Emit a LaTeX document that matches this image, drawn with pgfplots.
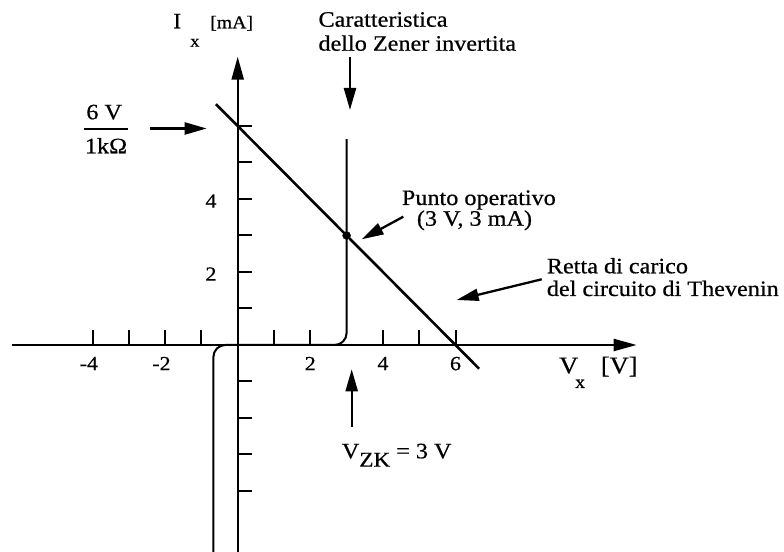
\documentclass[border=0pt]{standalone}
\usepackage{pgfplots}
\pgfplotsset{compat=1.18}
\usetikzlibrary{arrows.meta}
\usepackage{fontspec}
\setmainfont{Liberation Serif}[FakeStretch=1.1, FakeBold=0.6]

\newcommand\txt{\fontsize{22bp}{24bp}\selectfont}

\begin{document}
\begin{tikzpicture}
\useasboundingbox (0,0) rectangle (784bp,552bp);
\begin{axis}[
  anchor=origin, at={(237.7bp,207bp)},
  x=36.3bp, y=36.5bp,
  xmin=-6.23, xmax=10.99, ymin=-5.67, ymax=7.9,
  axis lines*=middle,
  clip=false,
  axis line style={line width=2.3bp, black},
  x axis line style={-{Triangle[length=23bp,width=12bp]}},
  y axis line style={-{Triangle[length=23bp,width=12bp]}},
  tick align=inside,
  major tick length=14.5bp, minor tick length=14.5bp,
  tick style={line width=2bp, black},
  xtick={-4,-2,2,4,6}, xticklabels={\llap{-}4,\llap{-}2,2,4,6},
  minor xtick={-3,-1,1,5},
  ytick={2,4}, yticklabels={2,4},
  minor ytick={-4,-3,-2,-1,1,3,5,6},
  xticklabel style={inner sep=0pt, anchor=north, yshift=-11.7bp, font=\fontsize{20bp}{20bp}\selectfont},
  yticklabel style={inner sep=0pt, anchor=east, xshift=-21bp, yshift=-2bp, font=\fontsize{20bp}{20bp}\selectfont},
]
% load line of the Thevenin circuit: I = (6 V - V)/1 kOhm
\addplot[line width=2.6bp, black] coordinates {(-0.6,6.6) (6.65,-0.65)};
% inverted Zener characteristic (forward knee at -0.67 V, breakdown at 3 V)
\addplot[line width=2bp, black, rounded corners=12bp] coordinates {(-0.67,-5.67) (-0.67,0) (3,0) (3,5.64)};
% operating point
\addplot[only marks, mark=*, mark size=4bp, black] coordinates {(3,3)};
\end{axis}

\begin{scope}[x=1bp, y=-1bp, shift={(0,552bp)},
  every node/.style={inner sep=0pt, anchor=base west},
  arr/.style={line width=2.3bp, -{Triangle[length=22bp,width=12bp]}}]
  % axis titles
  \node at (173,28.3) {\fontsize{22bp}{22bp}\selectfont I};
  \node at (190,46.7) {\fontsize{17bp}{17bp}\selectfont x};
  \node at (210,28.3) {\fontsize{18bp}{18bp}\selectfont [mA]};
  \node at (559,373.3) {\fontsize{24bp}{24bp}\selectfont V};
  \node at (575,388) {\fontsize{18bp}{18bp}\selectfont x};
  \node at (600.7,373.3) {\fontsize{24bp}{24bp}\selectfont [V]};
  % short-circuit current 6 V / 1 kOhm
  \node[anchor=base] at (104.2,119.3) {\txt 6 V};
  \node[anchor=base] at (106,153.3) {\txt 1k\char"03A9};
  \draw[line width=1.7bp] (84,129.3) -- (128.3,129.3);
  \draw[arr] (150,128.5) -- (206.7,128.5);
  % Zener characteristic label
  \node at (318.3,26.7) {\txt Caratteristica};
  \node at (318.3,50.7) {\txt dello Zener invertita};
  \draw[arr] (350,57) -- (350,110);
  % operating point label
  \node at (401.7,205) {\txt Punto operativo};
  \node at (416.7,225.7) {\txt (3 V, 3 mA)};
  \draw[arr] (403.3,216.7) -- (361.7,239.3);
  % load line label
  \node at (546.7,273.3) {\txt Retta di carico};
  \node at (546.7,296) {\txt del circuito di Thevenin};
  \draw[arr] (541.7,279.3) -- (456.7,300);
  % knee voltage
  \draw[arr] (351.7,426.7) -- (351.7,369.3);
  \node at (341.7,458.3) {\txt V\raisebox{-8.3bp}{\fontsize{21bp}{21bp}\selectfont ZK} = 3 V};
\end{scope}
\end{tikzpicture}
\end{document}
